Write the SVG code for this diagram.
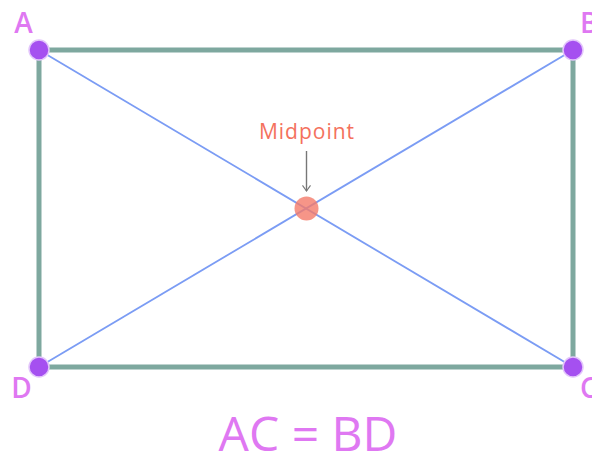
<svg xmlns="http://www.w3.org/2000/svg" width="592" height="454" viewBox="0 0 592 454">
<defs>
<style>
.side{stroke:#7ea89f;stroke-width:5;stroke-linecap:butt;fill:none}
.diag{stroke:#7b9cf4;stroke-width:1.8;fill:none}
.vtx{fill:#a550f0;stroke:#e3c6fb;stroke-width:1.5}
.lbl{font-family:"Open Sans",Lato,sans-serif;fill:#df78f2}
.v{font-size:28px;font-weight:600}
</style>
<marker id="ah" viewBox="0 0 10 12" refX="9" refY="6" markerWidth="8" markerHeight="10" markerUnits="userSpaceOnUse" orient="auto">
<path d="M2,1 L9,6 L2,11" fill="none" stroke="#777" stroke-width="1.4"/>
</marker>
</defs>
<rect width="592" height="454" fill="#ffffff"/>
<g id="connectors">
<line class="side" x1="39" y1="50" x2="573" y2="50"/>
<line class="side" x1="573" y1="50" x2="573" y2="367"/>
<line class="side" x1="573" y1="367" x2="39" y2="367"/>
<line class="side" x1="39" y1="367" x2="39" y2="50"/>
<line class="diag" x1="39" y1="50" x2="573" y2="367"/>
<line class="diag" x1="573" y1="50" x2="39" y2="367"/>
<line x1="306.5" y1="151" x2="306.5" y2="191" stroke="#777" stroke-width="1.4" marker-end="url(#ah)"/>
</g>
<g id="midpoint">
<circle cx="306.5" cy="208.5" r="12" fill="#f47a6a" fill-opacity="0.8"/>
<text x="307" y="139" text-anchor="middle" font-family="'Open Sans',Lato,sans-serif" font-size="21" letter-spacing="1" fill="#f4715d">Midpoint</text>
</g>
<g id="A"><circle class="vtx" cx="39" cy="50" r="10"/><text class="lbl v" x="23.5" y="33" text-anchor="middle">A</text></g>
<g id="B"><circle class="vtx" cx="573" cy="50" r="10"/><text class="lbl v" x="580" y="33">B</text></g>
<g id="C"><circle class="vtx" cx="573" cy="367" r="10"/><text class="lbl v" x="580" y="398">C</text></g>
<g id="D"><circle class="vtx" cx="39" cy="367" r="10"/><text class="lbl v" x="21.5" y="398" text-anchor="middle">D</text></g>
<g id="equation"><text class="lbl" x="308" y="451" font-size="48" text-anchor="middle">AC = BD</text></g>
</svg>
